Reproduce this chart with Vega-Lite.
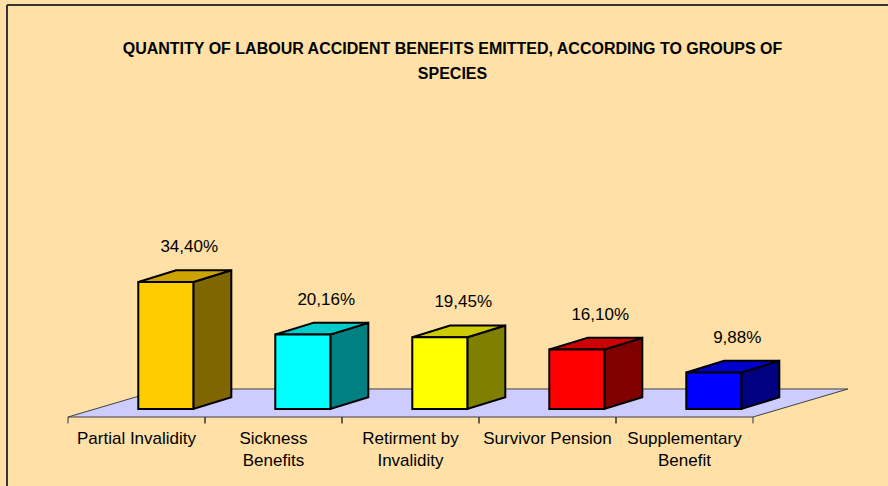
{
  "$schema": "https://vega.github.io/schema/vega-lite/v6.json",
  "width": 881,
  "height": 481,
  "autosize": {"type": "none"},
  "padding": {"left": 7, "top": 5, "right": 0, "bottom": 0},
  "background": "#FFE0A6",
  "config": {"view": {"stroke": null}, "font": "Liberation Sans"},
  "title": {
    "text": ["QUANTITY OF LABOUR ACCIDENT BENEFITS EMITTED, ACCORDING TO GROUPS OF", "SPECIES"],
    "font": "Liberation Sans",
    "fontSize": 16,
    "fontWeight": "bold",
    "color": "#000000",
    "anchor": "middle",
    "frame": "group",
    "baseline": "alphabetic",
    "lineHeight": 25,
    "offset": -91,
    "dx": 5
  },
  "data": {
    "values": [
      {"category": "Partial Invalidity", "axisLabel": "Partial Invalidity", "share": 34.40},
      {"category": "Sickness Benefits", "axisLabel": "Sickness\nBenefits", "share": 20.16},
      {"category": "Retirment by Invalidity", "axisLabel": "Retirment by\nInvalidity", "share": 19.45},
      {"category": "Survivor Pension", "axisLabel": "Survivor Pension", "share": 16.10},
      {"category": "Supplementary Benefit", "axisLabel": "Supplementary\nBenefit", "share": 9.88}
    ]
  },
  "transform": [
    {"window": [{"op": "row_number", "as": "rn"}]},
    {"calculate": "datum.rn - 1", "as": "idx"},
    {"calculate": "0", "as": "t0"},
    {"calculate": "1", "as": "t1"}
  ],
  "layer": [
    {
      "transform": [{"filter": "datum.idx == 0"}],
      "mark": {"type": "rule", "color": "#333333", "strokeWidth": 2},
      "encoding": {
        "x": {"datum": -0.44526, "type": "quantitative", "scale": {"domain": [-0.44526, 5.9854], "nice": false, "zero": false}, "axis": null}
      }
    },
    {
      "transform": [{"filter": "datum.idx == 0"}],
      "mark": {"type": "rule", "color": "#333333", "strokeWidth": 2},
      "encoding": {
        "y": {"datum": 109.426, "type": "quantitative", "scale": {"domain": [-20.856, 109.426], "nice": false, "zero": false}, "axis": null}
      }
    },
    {
      "transform": [
        {"filter": "datum.idx == 0"},
        {"fold": ["t0", "t1"], "as": ["k", "t"]},
        {"calculate": "-2.17 + datum.t * 7.59", "as": "fy"},
        {"calculate": "datum.t * 0.693", "as": "fx"},
        {"calculate": "5 + datum.t * 0.693", "as": "fx2"}
      ],
      "mark": {"type": "area", "orient": "horizontal", "fill": "#CCCCFF", "stroke": "#404040", "strokeWidth": 1},
      "encoding": {
        "x": {"field": "fx", "type": "quantitative", "scale": {"domain": [-0.44526, 5.9854], "nice": false, "zero": false}, "axis": null},
        "x2": {"field": "fx2"},
        "y": {"field": "fy", "type": "quantitative", "scale": {"domain": [-20.856, 109.426], "nice": false, "zero": false}, "axis": null}
      }
    },
    {
      "transform": [
        {"fold": ["t0", "t1"], "as": ["k", "t"]},
        {"calculate": "datum.idx + datum.t", "as": "tickx"}
      ],
      "mark": {"type": "rule", "color": "#333333", "strokeWidth": 1},
      "encoding": {
        "x": {"field": "tickx", "type": "quantitative", "scale": {"domain": [-0.44526, 5.9854], "nice": false, "zero": false}, "axis": null},
        "y": {"datum": -2.17, "type": "quantitative", "scale": {"domain": [-20.856, 109.426], "nice": false, "zero": false}, "axis": null},
        "y2": {"datum": -3.9}
      }
    },
    {
      "transform": [
        {"fold": ["t0", "t1"], "as": ["k", "t"]},
        {"calculate": "datum.idx + 0.915 + datum.t * 0.277", "as": "sx"},
        {"calculate": "datum.share + datum.t * 3.17", "as": "sy"},
        {"calculate": "datum.t * 3.17", "as": "sy2"}
      ],
      "mark": {"type": "area", "orient": "vertical", "stroke": "#000000", "strokeWidth": 2, "opacity": 1, "fillOpacity": 1},
      "encoding": {
        "x": {"field": "sx", "type": "quantitative", "scale": {"domain": [-0.44526, 5.9854], "nice": false, "zero": false}, "axis": null},
        "y": {"field": "sy", "type": "quantitative", "scale": {"domain": [-20.856, 109.426], "nice": false, "zero": false}, "axis": null},
        "y2": {"field": "sy2"},
        "color": {
          "field": "category", "type": "nominal", "legend": null,
          "scale": {"domain": ["Partial Invalidity", "Sickness Benefits", "Retirment by Invalidity", "Survivor Pension", "Supplementary Benefit"],
                    "range": ["#806600", "#008080", "#808000", "#800000", "#000080"]}
        }
      }
    },
    {
      "transform": [
        {"fold": ["t0", "t1"], "as": ["k", "t"]},
        {"calculate": "datum.idx + 0.513 + datum.t * 0.277", "as": "tx"},
        {"calculate": "datum.idx + 0.915 + datum.t * 0.277", "as": "tx2"},
        {"calculate": "datum.share + datum.t * 3.17", "as": "ty"}
      ],
      "mark": {"type": "area", "orient": "horizontal", "stroke": "#000000", "strokeWidth": 2, "opacity": 1, "fillOpacity": 1},
      "encoding": {
        "x": {"field": "tx", "type": "quantitative", "scale": {"domain": [-0.44526, 5.9854], "nice": false, "zero": false}, "axis": null},
        "x2": {"field": "tx2"},
        "y": {"field": "ty", "type": "quantitative", "scale": {"domain": [-20.856, 109.426], "nice": false, "zero": false}, "axis": null},
        "color": {
          "field": "category", "type": "nominal", "legend": null,
          "scale": {"domain": ["Partial Invalidity", "Sickness Benefits", "Retirment by Invalidity", "Survivor Pension", "Supplementary Benefit"],
                    "range": ["#CCA300", "#00CCCC", "#CCCC00", "#CC0000", "#0000CC"]}
        }
      }
    },
    {
      "transform": [
        {"calculate": "datum.idx + 0.513", "as": "bx"},
        {"calculate": "datum.idx + 0.915", "as": "bx2"}
      ],
      "mark": {"type": "rect", "stroke": "#000000", "strokeWidth": 2, "opacity": 1},
      "encoding": {
        "x": {"field": "bx", "type": "quantitative", "scale": {"domain": [-0.44526, 5.9854], "nice": false, "zero": false}, "axis": null},
        "x2": {"field": "bx2"},
        "y": {"field": "share", "type": "quantitative", "scale": {"domain": [-20.856, 109.426], "nice": false, "zero": false}, "axis": null},
        "y2": {"datum": 0},
        "color": {
          "field": "category", "type": "nominal", "legend": null,
          "scale": {"domain": ["Partial Invalidity", "Sickness Benefits", "Retirment by Invalidity", "Survivor Pension", "Supplementary Benefit"],
                    "range": ["#FFCC00", "#00FFFF", "#FFFF00", "#FF0000", "#0000FF"]}
        }
      }
    },
    {
      "transform": [
        {"calculate": "datum.idx + 0.885", "as": "lx"},
        {"calculate": "datum.share + 8.05", "as": "ly"},
        {"calculate": "replace(format(datum.share, '.2f'), '.', ',') + '%'", "as": "pct"}
      ],
      "mark": {"type": "text", "fontSize": 17, "font": "Liberation Sans", "align": "center", "baseline": "alphabetic", "color": "#000000"},
      "encoding": {
        "x": {"field": "lx", "type": "quantitative", "scale": {"domain": [-0.44526, 5.9854], "nice": false, "zero": false}, "axis": null},
        "y": {"field": "ly", "type": "quantitative", "scale": {"domain": [-20.856, 109.426], "nice": false, "zero": false}, "axis": null},
        "text": {"field": "pct"}
      }
    },
    {
      "transform": [
        {"calculate": "datum.idx + 0.5", "as": "cx"}
      ],
      "mark": {"type": "text", "fontSize": 17, "font": "Liberation Sans", "align": "center", "baseline": "alphabetic", "lineBreak": "\n", "lineHeight": 22.5, "color": "#000000"},
      "encoding": {
        "x": {"field": "cx", "type": "quantitative", "scale": {"domain": [-0.44526, 5.9854], "nice": false, "zero": false}, "axis": null},
        "y": {"datum": -9.48, "type": "quantitative", "scale": {"domain": [-20.856, 109.426], "nice": false, "zero": false}, "axis": null},
        "text": {"field": "axisLabel"}
      }
    }
  ],
  "resolve": {"scale": {"color": "independent"}}
}
